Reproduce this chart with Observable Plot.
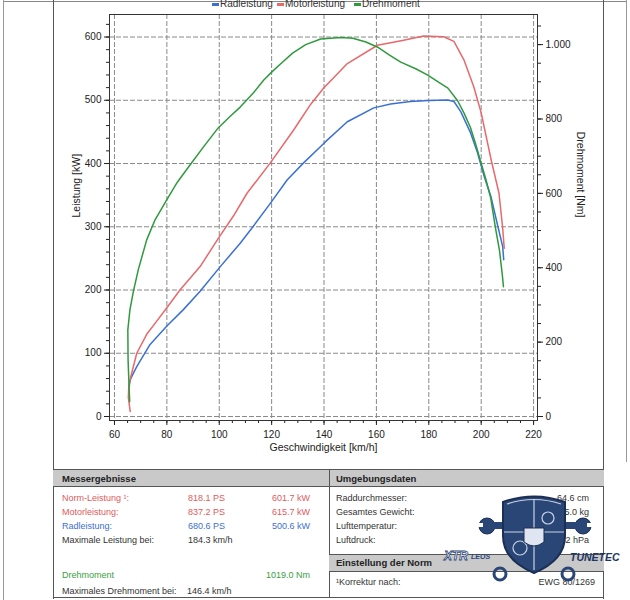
<!DOCTYPE html>
<html>
<head>
<meta charset="utf-8">
<script src="https://cdn.jsdelivr.net/npm/d3@7"></script>
<script src="https://cdn.jsdelivr.net/npm/@observablehq/plot@0.6"></script>
<style>
  body { margin: 0; background: #fff; font-family: "Liberation Sans", Arial, sans-serif; color: #333; }
  #page { position: relative; width: 630px; height: 600px; overflow: hidden; }
  #chart { position: absolute; left: 0; top: 0; }
  .t { position: absolute; white-space: nowrap; font-size: 9px; line-height: 10px; }
  .r { text-align: right; }
  .b { font-weight: bold; font-size: 9.5px; color: #222; }
  .ln { position: absolute; background: #555; }
  .band { position: absolute; background: #c9c9c9; border-top: 1px solid #555; border-bottom: 1px solid #555; }
  .leg { position: absolute; top: -1.5px; font-size: 10px; line-height: 10px; color: #333; white-space: nowrap; }
  .sw { position: absolute; top: 2.5px; width: 7px; height: 3px; }
</style>
</head>
<body>
<div id="page">
  <div id="chart"></div>
</div>
<script>
// Drehmoment-Kurve (km/h, Nm)
const speedTq = [65.8, 65.2, 65.1, 65.9, 67.2, 69.1, 72.3, 75.5, 80, 84, 88.9, 94, 99.6, 104, 108, 113, 117, 120, 124, 128, 133, 138.7, 146.4, 151, 156, 160.5, 165, 169.3, 175, 179.6, 184, 187.3, 191, 193.5, 195.9, 197.8, 199.7, 201.7, 203.6, 205.5, 207, 208.1, 208.5];
const torque  = [40, 150, 233, 287, 336, 395, 475, 529, 583, 630, 677, 725, 776, 806, 832, 870, 905, 926, 952, 977, 1000, 1015, 1019, 1017, 1007, 993, 972, 953, 935, 918, 898, 883, 849, 815, 777, 735, 688, 640, 589, 505, 446, 379, 349];

// Motorleistung (km/h, kW)
const speedMot = [66.0, 65.3, 65.5, 66.3, 68.5, 72.3, 76, 80, 85, 92.7, 99.7, 105.4, 110.6, 119.5, 128.4, 134.8, 139.8, 148.9, 160.4, 170.4, 178, 185.7, 189.6, 193.4, 197.2, 200, 203.8, 206.8, 208.2, 208.8];
const motor    = [8, 30, 50, 64, 100, 130, 150, 172, 200, 237, 282, 317, 353, 401, 453, 493, 519, 558, 587, 595, 601.6, 600.5, 593, 564, 521, 480, 406, 353, 298, 266];

// Radleistung (km/h, kW)
const speedRad = [65.6, 65.8, 66.2, 68.5, 73.6, 80, 86.3, 92.7, 100.4, 108, 112.5, 119.5, 125.9, 132.2, 138.7, 141.2, 148.9, 159, 165.4, 173, 180, 187.2, 189.6, 192.2, 196, 198.6, 201.2, 203.7, 206.4, 208.2, 208.6];
const rad      = [46, 53, 60, 79, 114, 143, 169, 198, 237, 274, 298, 337, 374, 401, 427, 437, 466, 488, 494, 498, 499.5, 500.5, 498, 482, 448, 417, 379, 348, 300, 269, 248];

const xTicks = [60, 80, 100, 120, 140, 160, 180, 200, 220];
const yTicks = [0, 100, 200, 300, 400, 500, 600];
const nmTicks = [0, 200, 400, 600, 800, 1000];
const nmLabels = ["0", "200", "400", "600", "800", "1.000"];

const seriesNames = ["Radleistung", "Motorleistung", "Drehmoment"];
const seriesColors = ["#3a70d6", "#e8686b", "#2f9a3c"];

// Tabelle
const resLabels = ["Norm-Leistung ¹:", "Motorleistung:", "Radleistung:", "Maximale Leistung bei:"];
const resColors = ["#e05a5c", "#e05a5c", "#3e6fcf", "#333"];
const resPS = ["818.1 PS", "837.2 PS", "680.6 PS", "184.3 km/h"];
const resKW = ["601.7 kW", "615.7 kW", "500.6 kW", ""];
const envLabels = ["Raddurchmesser:", "Gesamtes Gewicht:", "Lufttemperatur:", "Luftdruck:"];
const envValues = ["64.6 cm", "5.0 kg", "°C", ".2 hPa"];

const k = 0.588; // 1 Nm auf der kW-Skala

const mot = speedMot.map((s, i) => ({s, v: motor[i]}));
const rd = speedRad.map((s, i) => ({s, v: rad[i]}));
const tq = speedTq.map((s, i) => ({s, v: torque[i] * k}));

const grid = {stroke: "#8a8a8a", strokeOpacity: 1, strokeDasharray: "5,2"};

const chart = Plot.plot({
  width: 630,
  height: 462,
  marginLeft: 109,
  marginRight: 93,
  marginTop: 14,
  marginBottom: 42,
  style: {fontFamily: "Liberation Sans, Arial, sans-serif", fontSize: "10px", color: "#222", background: "transparent"},
  x: {domain: [58.1, 221.5]},
  y: {domain: [-6.3, 635.6]},
  marks: [
    Plot.gridX(xTicks, grid),
    Plot.gridY(yTicks, grid),
    Plot.axisX(xTicks, {tickSize: 5, tickPadding: 5, label: null}),
    Plot.axisX(d3.range(60, 221, 5), {tickSize: 3, text: null, label: null}),
    Plot.axisY(yTicks, {tickSize: 5, tickPadding: 3, label: null}),
    Plot.axisY(d3.range(0, 621, 20), {tickSize: 3, text: null, label: null}),
    Plot.axisY(nmTicks.map(v => v * k), {anchor: "right", tickSize: 5, tickPadding: 3, label: null,
      tickFormat: d => nmLabels[nmTicks.indexOf(Math.round(d / k))]}),
    Plot.axisY(d3.range(0, 1051, 50).map(v => v * k), {anchor: "right", tickSize: 3, text: null, label: null}),
    Plot.line(rd, {x: "s", y: "v", stroke: seriesColors[0], strokeWidth: 1.5}),
    Plot.line(mot, {x: "s", y: "v", stroke: seriesColors[1], strokeWidth: 1.5}),
    Plot.line(tq, {x: "s", y: "v", stroke: seriesColors[2], strokeWidth: 1.5}),
    Plot.frame({stroke: "#333"}),
    Plot.text(["Leistung [kW]"], {text: d => d, frameAnchor: "left", dx: -33, rotate: -90, fontSize: 10.5}),
    Plot.text(["Drehmoment [Nm]"], {text: d => d, frameAnchor: "right", dx: 43, rotate: 90, fontSize: 10.5}),
    Plot.text(["Geschwindigkeit [km/h]"], {text: d => d, frameAnchor: "bottom", dy: 30, fontSize: 10.5})
  ]
});
document.querySelector("#chart").append(chart);

// Rahmen, Legende, Tabelle
const page = document.querySelector("#page");
function add(html) { page.insertAdjacentHTML("beforeend", html); }
function line(x, y, w, h, c) { add(`<div class="ln" style="left:${x}px;top:${y}px;width:${w}px;height:${h}px;${c ? "background:" + c : ""}"></div>`); }
function txt(s, x, cy, cls, color, right) {
  const pos = right ? `right:${630 - x}px` : `left:${x}px`;
  add(`<div class="t ${cls || ""}" style="${pos};top:${cy - 5}px;${color ? "color:" + color : ""}">${s}</div>`);
}

line(3, 1, 624, 1, "#888");
line(3, 0, 1, 600, "#999");
line(626, 0, 1, 462, "#999");
line(53, 0, 1, 599, "#555");
line(603, 0, 1, 599, "#555");
line(53, 597, 551, 1, "#555");

const legX = [212, 277, 354];
seriesNames.forEach((n, i) => {
  add(`<div class="sw" style="left:${legX[i]}px;background:${seriesColors[i]}"></div>`);
  add(`<div class="leg" style="left:${legX[i] + 8}px">${n}</div>`);
});

add(`<div class="band" style="left:53px;top:469px;width:551px;height:16px"></div>`);
line(329, 469, 1, 129, "#555");
add(`<div class="band" style="left:329px;top:554px;width:275px;height:16px"></div>`);

txt("Messergebnisse", 62, 478.5, "b");
txt("Umgebungsdaten", 336, 478.5, "b");
txt("Einstellung der Norm", 336, 563, "b");

const rowY = [498, 512, 526, 540];
resLabels.forEach((l, i) => {
  txt(l, 62, rowY[i], "", resColors[i]);
  txt(resPS[i], 188, rowY[i], "", resColors[i]);
  if (resKW[i]) txt(resKW[i], 310, rowY[i], "r", resColors[i], true);
});
txt("Drehmoment", 62, 575, "", "#3aa03f");
txt("1019.0 Nm", 310, 575, "r", "#3aa03f", true);
txt("Maximales Drehmoment bei:", 62, 591, "", "#333");
txt("146.4 km/h", 187, 591, "", "#333");

envLabels.forEach((l, i) => {
  txt(l, 336, rowY[i], "", "#333");
  txt(envValues[i], 589, rowY[i], "r", "#333", true);
});
txt("¹Korrektur nach:", 336, 582, "", "#333");
txt("EWG 80/1269", 595, 582, "r", "#333", true);

// Logo (vereinfacht)
add(`<svg style="position:absolute;left:440px;top:490px" width="190" height="100">
  <g fill="#2a4677" stroke="#1b2f55">
    <circle cx="47" cy="36" r="8" stroke-width="1"/>
    <rect x="47" y="32" width="22" height="7" stroke="none"/>
    <circle cx="143" cy="36" r="8" stroke-width="1"/>
    <rect x="120" y="32" width="22" height="7" stroke="none"/>
    <path d="M63,12 Q94,1 125,12 L125,46 Q125,70 94,83 Q63,70 63,46 Z" stroke-width="2"/>
  </g>
  <rect x="35" y="33" width="8" height="4" fill="#fff"/>
  <rect x="147" y="33" width="8" height="4" fill="#fff"/>
  <g stroke="#c9d3e4" stroke-width="1.2" fill="none">
    <path d="M94,9 L94,80 M64,42 L124,42"/>
    <path d="M67,14 Q94,5 121,14"/>
    <circle cx="80" cy="58" r="7"/>
    <circle cx="108" cy="28" r="6"/>
  </g>
  <path d="M84,38 L104,38 L104,52 Q94,60 84,52 Z" fill="#dfe6f2" stroke="#1b2f55"/>
  <g fill="none" stroke="#2a4677" stroke-width="3">
    <circle cx="60" cy="84" r="6"/>
    <circle cx="128" cy="84" r="6"/>
  </g>
  <text x="4" y="70" font-family="Liberation Sans, Arial" font-size="12" font-weight="bold" font-style="italic" fill="#fff" stroke="#2a4677" stroke-width="0.8">XTR</text>
  <text x="31" y="69" font-family="Liberation Sans, Arial" font-size="7" font-weight="bold" font-style="italic" fill="#2a4677">LEOS</text>
  <text x="130" y="71" font-family="Liberation Sans, Arial" font-size="10.5" font-weight="bold" font-style="italic" fill="#1e3662">TUNETEC</text>
</svg>`);
</script>
</body>
</html>
